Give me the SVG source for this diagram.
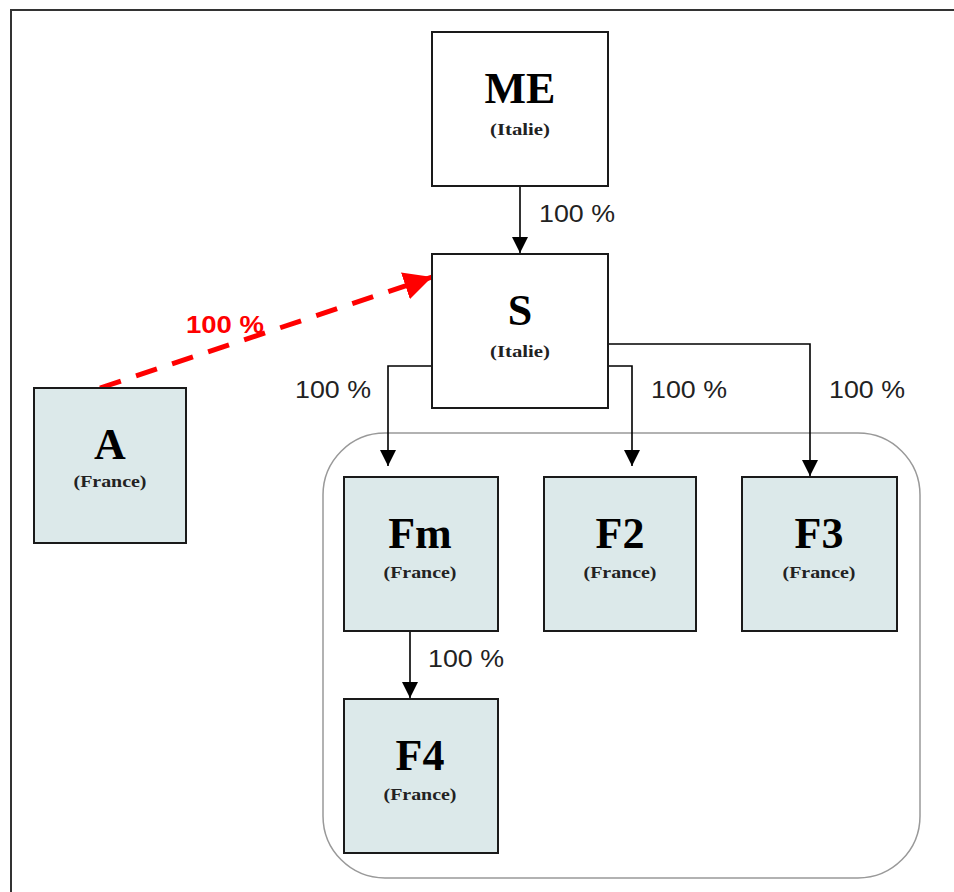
<svg xmlns="http://www.w3.org/2000/svg" width="954" height="892" viewBox="0 0 954 892">
<defs>
<marker id="ah" viewBox="0 0 10 10" refX="10" refY="5" markerWidth="16" markerHeight="16" markerUnits="userSpaceOnUse" orient="auto">
<path d="M0,0 L10,5 L0,10 z" fill="#000"/>
</marker>
<marker id="ahr" viewBox="0 0 10 10" refX="10" refY="5" markerWidth="28" markerHeight="28" markerUnits="userSpaceOnUse" orient="auto">
<path d="M0,0 L10,5 L0,10 z" fill="#ff0000"/>
</marker>
</defs>
<style>
.box{stroke:#1a1a1a;stroke-width:2}
.white{fill:#ffffff}
.blue{fill:#dce9ea}
.title{font-family:"Liberation Serif",serif;font-weight:bold;font-size:44px;fill:#000;text-anchor:middle}
.sub{font-family:"Liberation Serif",serif;font-weight:bold;font-size:16px;fill:#222;text-anchor:middle}
.lbl{font-family:"Liberation Sans",Arial,sans-serif;font-size:24px;fill:#222}
.red{fill:#ff0000;font-weight:bold}
.conn{fill:none;stroke:#000;stroke-width:1.6}
</style>
<rect x="0" y="0" width="954" height="892" fill="#fff"/>
<path d="M11,892 V10 H954" fill="none" stroke="#333" stroke-width="2"/>
<rect id="container" x="323" y="433" width="597" height="445" rx="62" ry="62" fill="none" stroke="#999" stroke-width="1.5"/>
<g id="connectors">
<path class="conn" d="M520,186 V253" marker-end="url(#ah)"/>
<path class="conn" d="M432,366 H388 V466" marker-end="url(#ah)"/>
<path class="conn" d="M608,366 H632 V466" marker-end="url(#ah)"/>
<path class="conn" d="M608,344 H810 V476" marker-end="url(#ah)"/>
<path class="conn" d="M410,631 V698" marker-end="url(#ah)"/>
<line x1="100" y1="388" x2="432" y2="277" stroke="#ff0000" stroke-width="5" stroke-dasharray="22 16" marker-end="url(#ahr)"/>
<text class="lbl" x="539" y="222" textLength="76" lengthAdjust="spacingAndGlyphs">100 %</text>
<text class="lbl" x="295" y="398" textLength="76" lengthAdjust="spacingAndGlyphs">100 %</text>
<text class="lbl" x="651" y="398" textLength="76" lengthAdjust="spacingAndGlyphs">100 %</text>
<text class="lbl" x="829" y="398" textLength="76" lengthAdjust="spacingAndGlyphs">100 %</text>
<text class="lbl" x="428" y="667" textLength="76" lengthAdjust="spacingAndGlyphs">100 %</text>
<text class="lbl red" x="186" y="333" textLength="78" lengthAdjust="spacingAndGlyphs">100 %</text>
</g>
<g id="ME"><rect class="box white" x="432" y="32" width="176" height="154"/><text class="title" x="520" y="103">ME</text><text class="sub" x="520" y="135" textLength="60" lengthAdjust="spacingAndGlyphs">(Italie)</text></g>
<g id="S"><rect class="box white" x="432" y="254" width="176" height="154"/><text class="title" x="520" y="325">S</text><text class="sub" x="520" y="357" textLength="60" lengthAdjust="spacingAndGlyphs">(Italie)</text></g>
<g id="A"><rect class="box blue" x="34" y="388" width="152" height="155"/><text class="title" x="110" y="459">A</text><text class="sub" x="110" y="487" textLength="73" lengthAdjust="spacingAndGlyphs">(France)</text></g>
<g id="Fm"><rect class="box blue" x="344" y="477" width="154" height="154"/><text class="title" x="420" y="548">Fm</text><text class="sub" x="420" y="578" textLength="73" lengthAdjust="spacingAndGlyphs">(France)</text></g>
<g id="F2"><rect class="box blue" x="544" y="477" width="152" height="154"/><text class="title" x="620" y="548">F2</text><text class="sub" x="620" y="578" textLength="73" lengthAdjust="spacingAndGlyphs">(France)</text></g>
<g id="F3"><rect class="box blue" x="742" y="477" width="155" height="154"/><text class="title" x="819" y="548">F3</text><text class="sub" x="819" y="578" textLength="73" lengthAdjust="spacingAndGlyphs">(France)</text></g>
<g id="F4"><rect class="box blue" x="344" y="699" width="154" height="154"/><text class="title" x="420" y="770">F4</text><text class="sub" x="420" y="800" textLength="73" lengthAdjust="spacingAndGlyphs">(France)</text></g>
</svg>
